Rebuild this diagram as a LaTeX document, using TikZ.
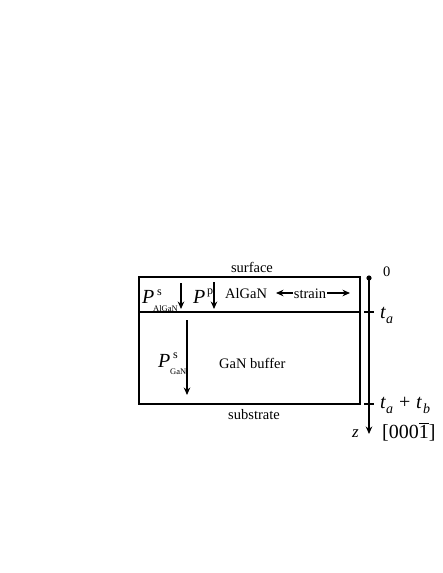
\documentclass[tikz,border=0pt]{standalone}
\usepackage{fontspec}
\setmainfont{Liberation Serif}
\usetikzlibrary{arrows.meta,positioning}
\tikzset{>={Stealth[length=7.5pt,width=6.5pt]},every node/.style={font=\fontsize{14.5}{16}\selectfont,inner sep=0pt,anchor=base west},
  pol/.style={line width=1.5pt,->},layer/.style={line width=1.3pt},
  bigit/.style={font=\fontsize{20}{22}\selectfont\itshape},sup/.style={font=\fontsize{12}{13}\selectfont},
  sub/.style={font=\fontsize{8.5}{9}\selectfont},idx/.style={font=\fontsize{14}{15}\selectfont\itshape}}

\begin{document}
\begin{tikzpicture}[x=1pt,y=-1pt]
\useasboundingbox (0,0) rectangle (443,573);
\draw[layer] (139,277) rectangle (360,404);\draw[layer] (139,312)--(360,312);
\node[anchor=base] (surf) at (252,272){surface};\node[anchor=base] (sub) at (254,419){substrate};
% polarisation arrows
\coordinate (a1) at (181,283);\coordinate (a2) at (181,309);\draw[pol] (a1)--(a2);
\coordinate (b1) at (214,282);\coordinate (b2) at (214,309);\draw[pol] (b1)--(b2);
\coordinate (c1) at (187,320);\coordinate (c2) at (187,395);\draw[pol] (c1)--(c2);
\node[bigit] (pal) at (142,303){P};\node[sup] (pals) at (157,295){s};\node[sub] (palsub) at (153,311){AlGaN};
\node[bigit] (pp) at (193,303){P};\node[sup] (pps) at (207,294){p};
\node (algan) at (225,298){AlGaN};
\node[anchor=base] (strain) at (310,298){strain};
\coordinate (s1) at (293,293);\coordinate (s1e) at (276,293);\draw[pol] (s1)--(s1e);
\coordinate (s2) at (327,293);\coordinate (s2e) at (350,293);\draw[pol] (s2)--(s2e);
\node[bigit] (pg) at (158,367){P};\node[sup] (pgs) at (173,358){s};\node[sub] (pgsub) at (170,374){GaN};
\node (buf) at (219,368){GaN buffer};
% depth axis
\coordinate (z0) at (369,278);\coordinate (zb) at (369,434);
\draw[line width=1.3pt,->] (z0)--(zb);\fill (z0) circle (2.6);
\draw[line width=1.2pt] (364,312)--(374,312);\draw[line width=1.2pt] (364,404)--(374,404);
\node (n0) at (383,276){0};
\node[bigit] (ta) at (380,318){t};\node[idx] (tas) at (386,323){a};
\node[bigit] (tab) at (380,408){t};\node[idx] (tabs) at (386,413){a};
\node[font=\fontsize{20}{22}\selectfont] (plus) at (399,408){+};
\node[bigit] (tb) at (416,408){t};\node[idx] (tbs) at (423,413){b};
\node[font=\fontsize{17}{18}\selectfont\itshape] (zz) at (352,437){z};
\node[font=\fontsize{20}{21}\selectfont] (dir) at (382,438){[000$\overline{\hbox{1}}$]};
\end{tikzpicture}
\end{document}
